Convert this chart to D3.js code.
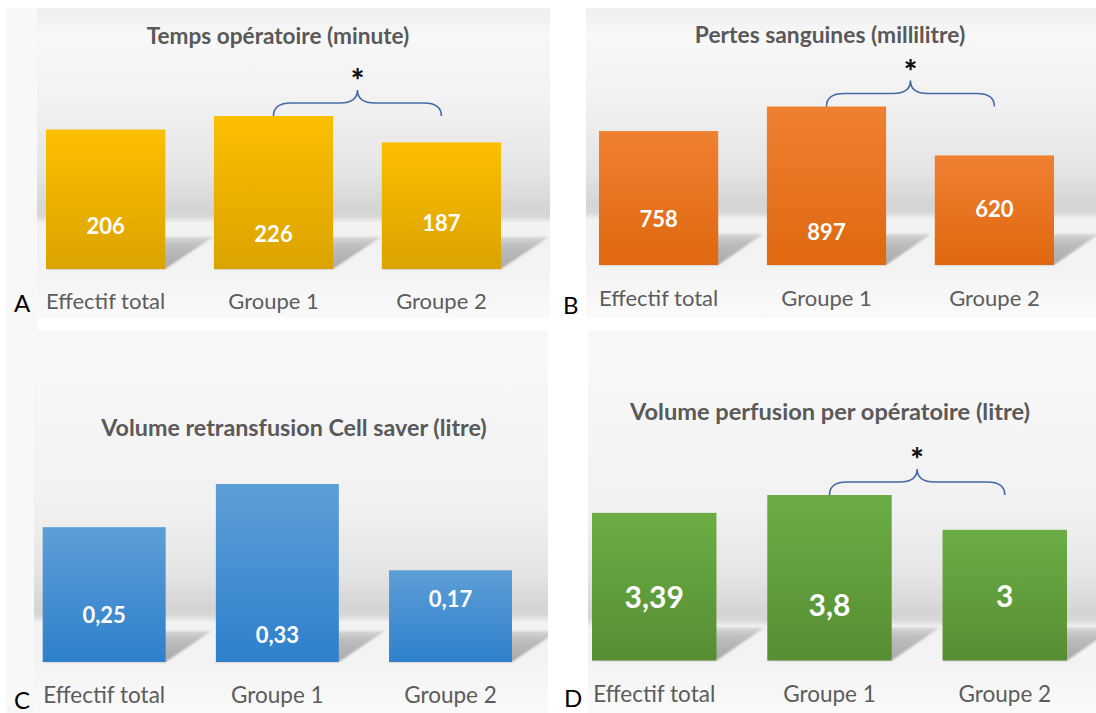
<!DOCTYPE html>
<html>
<head>
<meta charset="utf-8">
<script src="https://cdn.jsdelivr.net/npm/d3@7"></script>
<style>
  html, body { margin: 0; padding: 0; background: #ffffff; }
  svg { display: block; }
  text { font-family: "Lato", "Noto Sans", sans-serif; }
</style>
</head>
<body>
<svg id="chart" width="1096" height="713"></svg>
<script>
// ---- data ----
const categories = ["Effectif total", "Groupe 1", "Groupe 2"];
const tempsOperatoire = [206, 226, 187];
const pertesSanguines = [758, 897, 620];
const volumeCellSaver = [0.25, 0.33, 0.17];
const volumePerfusion = [3.39, 3.8, 3];
const panelTitles = [
  "Temps opératoire (minute)",
  "Pertes sanguines (millilitre)",
  "Volume retransfusion Cell saver (litre)",
  "Volume perfusion per opératoire (litre)"
];
const panelLetters = ["A", "B", "C", "D"];
// groups 1 vs 2 marked as significantly different
const significant = [true, true, false, true];
const seriesValues = [tempsOperatoire, pertesSanguines, volumeCellSaver, volumePerfusion];

// ---- layout and styling of each panel ----
const panels = [
  { bg: [37, 8, 550, 318], bars: [46, 501], base: 269, top: 116, horizon: 52, topShade: "#eeeeee",
    titleX: 278, titleY: 44, titleSize: 22.6, letterX: 14, letterY: 312, catY: 309, catSize: 22,
    lift: [35, 27, 38], valueSize: 22, shadow: [48, -32],
    colors: ["#fcbf00", "#dba300"] },
  { bg: [586, 8, 1096, 318], bars: [599, 1054], base: 265, top: 106.5, horizon: 52, topShade: "#eeeeee",
    titleX: 830, titleY: 43, titleSize: 22.8, letterX: 563, letterY: 314, catY: 306, catSize: 22,
    lift: [38, 25, 48], valueSize: 22, shadow: [45, -31],
    colors: ["#ef8031", "#df6810"] },
  { bg: [34, 330, 548, 713], bars: [42.7, 512], base: 662, top: 484, horizon: 46, topShade: "#f8f8f8",
    titleX: 294, titleY: 436, titleSize: 23.3, letterX: 14, letterY: 709, catY: 703, catSize: 22.5,
    lift: [39, 19, 55], valueSize: 22, shadow: [46, -31],
    colors: ["#5d9ed7", "#2e80cb"] },
  { bg: [588, 330, 1096, 713], bars: [592, 1067], base: 660.5, top: 495, horizon: 40, topShade: "#f8f8f8",
    titleX: 830, titleY: 420, titleSize: 23.6, letterX: 564, letterY: 707, catY: 702, catSize: 22.5,
    lift: [52.5, 44.5, 54], valueSize: 30, shadow: [48, -33],
    colors: ["#6bad44", "#568e33"] }
];

const fmt = v => String(v).replace(".", ",");

const svg = d3.select("#chart");
const defs = svg.append("defs");

defs.append("filter").attr("id", "soft")
  .attr("x", "-20%").attr("y", "-20%").attr("width", "140%").attr("height", "140%")
  .append("feGaussianBlur").attr("stdDeviation", 1.3);

// page with a faint strip along the left edge
svg.append("rect").attr("x", 0).attr("y", 0).attr("width", 1096).attr("height", 713).attr("fill", "#ffffff");
svg.append("rect").attr("x", 6).attr("y", 8).attr("width", 31).attr("height", 705).attr("fill", "#f8f8f8");

panels.forEach((p, i) => {
  const values = seriesValues[i];
  const [bx0, by0, bx1, by1] = p.bg;
  const g = svg.append("g");

  // clip to the panel frame
  const clipId = "clip" + i;
  defs.append("clipPath").attr("id", clipId)
    .append("rect").attr("x", bx0).attr("y", by0).attr("width", bx1 - bx0).attr("height", by1 - by0);
  const inner = g.append("g").attr("clip-path", `url(#${clipId})`);

  // backdrop: wall fading to a grey horizon, then a light floor
  const h = p.base - p.horizon;
  const bgStops = [
    [by0, p.topShade], [by0 + 28, "#f8f8f8"], [h - 110, "#f1f1f1"], [h - 45, "#e5e5e5"],
    [h - 6, "#d4d4d4"], [h, "#d9d9d9"], [h + 6, "#f2f2f2"], [p.base, "#f3f3f3"], [by1, "#fafafa"]
  ];
  const bgGrad = defs.append("linearGradient").attr("id", "bg" + i)
    .attr("gradientUnits", "userSpaceOnUse").attr("x1", 0).attr("x2", 0).attr("y1", by0).attr("y2", by1);
  bgStops.forEach(([yy, c]) => bgGrad.append("stop")
    .attr("offset", Math.max(0, Math.min(1, (yy - by0) / (by1 - by0)))).attr("stop-color", c));
  inner.append("rect").attr("x", bx0).attr("y", by0).attr("width", bx1 - bx0).attr("height", by1 - by0)
    .attr("fill", `url(#bg${i})`);

  // scales
  const x = d3.scaleBand().domain(categories).range(p.bars).paddingInner(0.29).paddingOuter(0);
  const y = d3.scaleLinear().domain([0, d3.max(values)]).range([p.base, p.top]);

  // floor shadows cast behind the bars
  const shGrad = defs.append("linearGradient").attr("id", "sh" + i)
    .attr("x1", 0).attr("x2", 0).attr("y1", 1).attr("y2", 0);
  shGrad.append("stop").attr("offset", 0).attr("stop-color", "#a9a9a9");
  shGrad.append("stop").attr("offset", 0.7).attr("stop-color", "#bdbdbd");
  shGrad.append("stop").attr("offset", 1).attr("stop-color", "#d6d6d6");
  const [dx, dy] = p.shadow;
  inner.selectAll(".shadow").data(categories).join("path")
    .attr("class", "shadow")
    .attr("d", c => {
      const x0 = x(c), x1 = x(c) + x.bandwidth();
      return `M${x0},${p.base}L${x1},${p.base}L${x1 + dx},${p.base + dy}L${x0 + dx},${p.base + dy}Z`;
    })
    .attr("fill", `url(#sh${i})`)
    .attr("filter", "url(#soft)");

  // bars
  const barGrad = defs.append("linearGradient").attr("id", "bar" + i)
    .attr("x1", 0).attr("x2", 0).attr("y1", 0).attr("y2", 1);
  barGrad.append("stop").attr("offset", 0).attr("stop-color", p.colors[0]);
  barGrad.append("stop").attr("offset", 1).attr("stop-color", p.colors[1]);
  inner.selectAll(".bar").data(values).join("rect")
    .attr("class", "bar")
    .attr("x", (d, j) => x(categories[j]))
    .attr("y", d => y(d))
    .attr("width", x.bandwidth())
    .attr("height", d => p.base - y(d))
    .attr("fill", `url(#bar${i})`);

  // value labels inside the bars
  inner.selectAll(".val").data(values).join("text")
    .attr("class", "val")
    .attr("x", (d, j) => x(categories[j]) + x.bandwidth() / 2)
    .attr("y", (d, j) => p.base - p.lift[j])
    .attr("text-anchor", "middle")
    .attr("fill", "#ffffff")
    .attr("font-weight", 700)
    .attr("font-size", p.valueSize)
    .text(d => fmt(d));

  // category axis (labels only)
  const axis = d3.axisBottom(x).tickSize(0).tickPadding(0);
  const ax = g.append("g").attr("transform", `translate(0,${p.catY})`).call(axis);
  ax.select(".domain").remove();
  ax.selectAll("text")
    .attr("dy", 0)
    .attr("y", 0)
    .attr("fill", "#5c5c5c")
    .attr("font-size", p.catSize)
    .style("font-family", "Lato, 'Noto Sans', sans-serif");

  // title
  g.append("text")
    .attr("x", p.titleX).attr("y", p.titleY)
    .attr("text-anchor", "middle")
    .attr("fill", "#595959")
    .attr("font-weight", 700)
    .attr("font-size", p.titleSize)
    .text(panelTitles[i]);

  // panel letter
  svg.append("text")
    .attr("x", p.letterX).attr("y", p.letterY)
    .attr("fill", "#000000")
    .attr("font-size", 24)
    .text(panelLetters[i]);

  // significance brace between groups 1 and 2
  if (significant[i]) {
    const xL = x(categories[1]) + x.bandwidth() / 2;
    const xR = x(categories[2]) + x.bandwidth() / 2;
    const xM = (xL + xR) / 2;
    const yB = y(values[1]);
    const yH = yB - 13;
    const yT = yB - 26;
    const r = 11;
    const path = d3.path();
    path.moveTo(xL, yB);
    path.quadraticCurveTo(xL, yH, xL + r * 1.6, yH);
    path.lineTo(xM - r * 1.6, yH);
    path.quadraticCurveTo(xM, yH, xM, yT);
    path.quadraticCurveTo(xM, yH, xM + r * 1.6, yH);
    path.lineTo(xR - r * 1.6, yH);
    path.quadraticCurveTo(xR, yH, xR, yB);
    g.append("path").attr("d", path.toString())
      .attr("fill", "none").attr("stroke", "#4469a8").attr("stroke-width", 1.6);
    g.append("text")
      .attr("x", xM).attr("y", yT + 2)
      .attr("text-anchor", "middle")
      .attr("fill", "#111111")
      .attr("font-weight", 900)
      .attr("font-size", 32)
      .text("*");
  }
});
</script>
</body>
</html>
